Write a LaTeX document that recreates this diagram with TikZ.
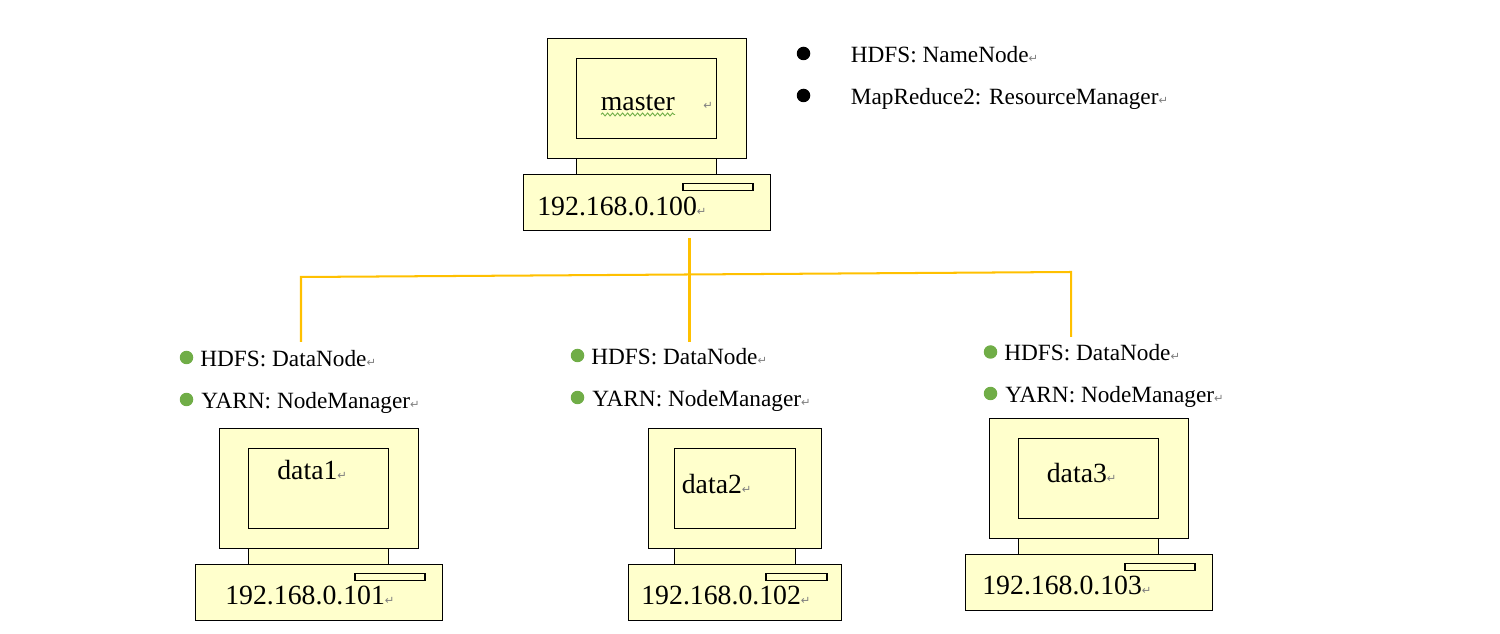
\documentclass[tikz,border=0pt]{standalone}
\usepackage{fontspec}
\setmainfont{Liberation Serif}
\newfontfamily\markfont{DejaVu Sans}
\usepackage{xcolor}
\usetikzlibrary{decorations.pathmorphing}
\definecolor{boxfill}{HTML}{FFFFCC}
\definecolor{busline}{HTML}{FFC000}
\definecolor{dotgreen}{HTML}{70AD47}
\newcommand{\retmark}{{\color{gray}\markfont\fontsize{6.5}{6.5}\selectfont ↵}}
\tikzset{part/.style = {rectangle,draw=black,fill=boxfill,line width=0.7pt,inner sep=0,anchor=north},
         hostname/.style = {anchor=base west,inner sep=0,font=\fontsize{15.8}{18}\selectfont},
         role/.style = {anchor=base west,inner sep=0,font=\fontsize{13.25}{16}\selectfont},
         blackdot/.style = {circle,fill=black,inner sep=0,minimum size=0.27cm},
         greendot/.style = {circle,fill=dotgreen,inner sep=0,minimum size=0.27cm},
         bus/.style = {draw=busline,line width=1.15pt}}

\begin{document}
\begin{tikzpicture}[x=0.02cm,y=-0.02cm]
    \useasboundingbox (0,0) rectangle (1500,634);
    % name/centre/top/monitor/screen/base/slot width/slot right
    \foreach \n/\x/\y/\mw/\iw/\bw/\sw/\sr in {master/646.8/38.2/199/140/247/70/106.7,
                                              data1/318.8/428.2/199/140/247/70/106.7,
                                              data2/734.8/428.2/173/121/213/61/92.7,
                                              data3/1088.8/418.2/199/140/247/70/106.7}{
        \node[part,minimum width=\iw*0.02cm,minimum height=0.4cm] (\n-neck) at (\x,\y+116) {};
        \node[part,minimum width=\mw*0.02cm,minimum height=2.4cm] (\n-monitor) at (\x,\y) {};
        \node[part,minimum width=\iw*0.02cm,minimum height=1.6cm] (\n-screen) at (\x,\y+20) {};
        \node[part,minimum width=\bw*0.02cm,minimum height=1.12cm] (\n-base) at (\x,\y+136) {};
        \node[part,anchor=north east,minimum width=\sw*0.02cm,minimum height=0.14cm] (\n-slot) at (\x+\sr,\y+145) {};
    }
    % machine names and addresses
    \node[hostname] (master-name) at (600.5,110.5) {master};
    \node[anchor=base west,inner sep=0] (master-ret) at (703,109.5) {\retmark};
    \node[hostname] (master-ip) at (537,215.5) {192.168.0.100\retmark};
    \node[hostname] (data1-name) at (277,479.5) {data1\retmark};
    \node[hostname] (data1-ip) at (225,604.5) {192.168.0.101\retmark};
    \node[hostname] (data2-name) at (681.5,493.5) {data2\retmark};
    \node[hostname] (data2-ip) at (641,604) {192.168.0.102\retmark};
    \node[hostname] (data3-name) at (1046.5,482.5) {data3\retmark};
    \node[hostname] (data3-ip) at (982,594) {192.168.0.103\retmark};
    % grammar squiggle below master
    \coordinate (sq1) at (601,114.5);
    \coordinate (sq2) at (675,114.5);
    \draw[dotgreen,line width=0.5pt,decorate,decoration={snake,amplitude=0.3mm,segment length=1mm}] (sq1) -- (sq2);
    % services
    \node[blackdot] (mdot1) at (803.5,53.5) {};
    \node[blackdot] (mdot2) at (803.5,95.5) {};
    \node[role] (hdfs0) at (850.5,63) {HDFS: NameNode\retmark};
    \node[role] (mr0) at (850.5,105) {MapReduce2: ResourceManager\retmark};
    \foreach \i/\dx/\tx/\ya/\yb/\da/\db in {1/186.5/200/366.5/409/357.5/399.5,
                                            2/577.5/591/364.5/407/355.5/397.5,
                                            3/990.5/1004/361/403/352/393.5}{
        \node[greendot] (dot\i a) at (\dx,\da) {};
        \node[greendot] (dot\i b) at (\dx,\db) {};
        \node[role] (hdfs\i) at (\tx,\ya) {HDFS: DataNode\retmark};
        \node[role] (yarn\i) at (\tx+1,\yb) {YARN: NodeManager\retmark};
    }
    % network
    \coordinate (trunk1) at (689.8,238);
    \coordinate (trunk2) at (689.8,342);
    \coordinate (left1) at (301,342);
    \coordinate (left2) at (301,277);
    \coordinate (right1) at (1071,272);
    \coordinate (right2) at (1071,337);
    \draw[bus,line join=miter] (left1) -- (left2) -- (right1) -- (right2);
    \draw[bus,line width=1.9pt] (trunk1) -- (trunk2);
\end{tikzpicture}
\end{document}
